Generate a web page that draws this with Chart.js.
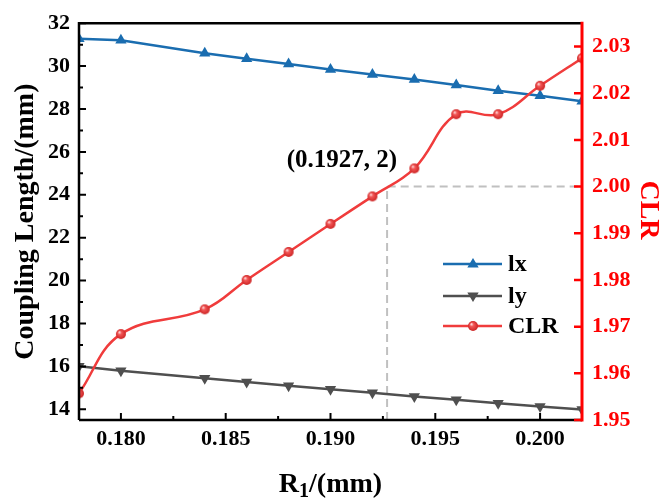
<!DOCTYPE html>
<html><head><meta charset="utf-8">
<script src="https://cdn.jsdelivr.net/npm/chart.js@4.4.1/dist/chart.umd.min.js"></script>
<style>html,body{margin:0;padding:0;background:#fff;}#wrap{width:660px;height:500px;}</style>
</head><body><div id="wrap"><canvas id="c" width="660" height="500"></canvas></div>
<script>
// ---- data ----
const r1  = [0.178,0.180,0.184,0.186,0.188,0.190,0.192,0.194,0.196,0.198,0.200,0.202];
const lx  = [31.28,31.21,30.60,30.34,30.10,29.84,29.61,29.38,29.12,28.85,28.62,28.36];
const ly  = [16.01,15.80,15.45,15.27,15.10,14.93,14.77,14.60,14.44,14.28,14.13,13.99];
const clr = [1.9557,1.9684,1.9737,1.9800,1.9860,1.9920,1.9979,2.0039,2.0155,2.0155,2.0216,2.0275];
const xTicks = [0.180,0.185,0.190,0.195,0.200];
const xMinor = [0.1825,0.1875,0.1925,0.1975];
const yTicks = [14,16,18,20,22,24,26,28,30,32];
const yMinor = [15,17,19,21,23,25,27,29,31];
const y1Ticks = [1.95,1.96,1.97,1.98,1.99,2.00,2.01,2.02,2.03];
const markX = 0.1927, markY = 2;
const markLabel = '(0.1927, 2)';
const legendNames = ['lx','ly','CLR'];

const FONT = "'Liberation Serif','Times New Roman',serif";
const BLUE = '#1a6db0', GRAY = '#4f4f4f', RED = '#f03c3c';

function makeBall(r){
  const s = 2*r+2, c = document.createElement('canvas'); c.width = s; c.height = s;
  const g = c.getContext('2d'), cx = s/2;
  const grad = g.createRadialGradient(cx-r*0.35, cx-r*0.4, r*0.05, cx, cx, r);
  grad.addColorStop(0,'#ffe2e2'); grad.addColorStop(0.35,'#f25656'); grad.addColorStop(1,'#cc2424');
  g.fillStyle = grad; g.beginPath(); g.arc(cx,cx,r,0,Math.PI*2); g.fill();
  return c;
}
const ball = makeBall(5);

const pts = arr => r1.map((x,i)=>({x, y:arr[i]}));

const framePlugin = {
  id:'frame',
  afterDatasetsDraw(chart){
    const {ctx, chartArea:a, scales} = chart;
    const X = scales.x, Y = scales.y, Y1 = scales.y1;
    ctx.save();
    ctx.lineCap = 'butt';
    ctx.strokeStyle = '#000'; ctx.lineWidth = 2.5;
    ctx.beginPath();
    ctx.moveTo(a.left, a.bottom); ctx.lineTo(a.left, a.top); ctx.lineTo(a.right, a.top);
    ctx.moveTo(a.left, a.bottom); ctx.lineTo(a.right, a.bottom);
    ctx.stroke();
    ctx.lineWidth = 2;
    ctx.beginPath();
    yTicks.forEach(v=>{const p=Y.getPixelForValue(v); ctx.moveTo(a.left,p); ctx.lineTo(a.left+7,p);});
    yMinor.forEach(v=>{const p=Y.getPixelForValue(v); ctx.moveTo(a.left,p); ctx.lineTo(a.left+4,p);});
    xTicks.forEach(v=>{const p=X.getPixelForValue(v); ctx.moveTo(p,a.bottom); ctx.lineTo(p,a.bottom-7);});
    xMinor.forEach(v=>{const p=X.getPixelForValue(v); ctx.moveTo(p,a.bottom); ctx.lineTo(p,a.bottom-4);});
    ctx.stroke();
    ctx.strokeStyle = '#ff0000'; ctx.lineWidth = 3;
    ctx.beginPath(); ctx.moveTo(a.right, a.top-1.5); ctx.lineTo(a.right, a.bottom+1.5); ctx.stroke();
    ctx.lineWidth = 2.5;
    ctx.beginPath();
    y1Ticks.forEach(v=>{const p=Y1.getPixelForValue(v); ctx.moveTo(a.right,p); ctx.lineTo(a.right-8,p);});
    ctx.stroke();
    ctx.restore();
  },
  afterDraw(chart){
    const {ctx, chartArea:a, scales} = chart;
    const X = scales.x, Y1 = scales.y1;
    ctx.save();
    ctx.fillStyle = '#000';
    ctx.font = "bold 28px " + FONT;
    ctx.textAlign = 'center'; ctx.textBaseline = 'middle';
    ctx.save(); ctx.translate(26, (a.top+a.bottom)/2); ctx.rotate(-Math.PI/2);
    ctx.fillText('Coupling Length/(mm)', 0, 0); ctx.restore();
    ctx.fillStyle = '#ff0000';
    ctx.save(); ctx.translate(648, 210); ctx.rotate(Math.PI/2);
    ctx.fillText('CLR', 0, 0); ctx.restore();
    ctx.fillStyle = '#000'; ctx.textAlign = 'left'; ctx.textBaseline = 'alphabetic';
    const big = "bold 28px " + FONT, small = "bold 20px " + FONT;
    ctx.font = big; const wR = ctx.measureText('R').width, wRest = ctx.measureText('/(mm)').width;
    ctx.font = small; const w1 = ctx.measureText('1').width;
    const tot = wR + w1 + wRest; let x0 = (a.left+a.right)/2 - tot/2; const base = 492;
    ctx.font = big; ctx.fillText('R', x0, base);
    ctx.font = small; ctx.fillText('1', x0+wR, base+5);
    ctx.font = big; ctx.fillText('/(mm)', x0+wR+w1, base);
    ctx.font = "bold 25px " + FONT; ctx.textAlign = 'right'; ctx.textBaseline = 'middle';
    ctx.fillText(markLabel, X.getPixelForValue(markX)+10, Y1.getPixelForValue(markY)-26);
    const colors = [BLUE, GRAY, RED];
    const ys = [264, 296, 326];
    legendNames.forEach((name,i)=>{
      const yy = ys[i];
      ctx.strokeStyle = colors[i]; ctx.lineWidth = 2.5;
      ctx.beginPath(); ctx.moveTo(443, yy); ctx.lineTo(502, yy); ctx.stroke();
      if(i===2){ ctx.drawImage(ball, 473-ball.width/2, yy-ball.height/2); }
      else {
        ctx.fillStyle = colors[i];
        const r = 6, dir = i===0 ? -1 : 1;
        ctx.beginPath();
        ctx.moveTo(473, yy + dir*r);
        ctx.lineTo(473 - r*0.95, yy - dir*r*0.6);
        ctx.lineTo(473 + r*0.95, yy - dir*r*0.6);
        ctx.closePath(); ctx.fill();
      }
      ctx.fillStyle = '#000'; ctx.font = "bold 24px " + FONT;
      ctx.textAlign = 'left'; ctx.textBaseline = 'middle';
      ctx.fillText(name, 508, yy+1);
    });
    ctx.restore();
  }
};

new Chart(document.getElementById('c'), {
  type:'line',
  data:{ datasets:[
    { label:'guide', data:[{x:markX,y:1.95},{x:markX,y:markY},{x:0.202,y:markY}], yAxisID:'y1',
      borderColor:'#c0c0c0', borderWidth:2, borderDash:[8,5], pointRadius:0, tension:0, clip:0, order:5 },
    { label:legendNames[0], data:pts(lx), yAxisID:'y', borderColor:BLUE, backgroundColor:BLUE,
      borderWidth:2.5, pointStyle:'triangle', pointRadius:6.5, pointBorderWidth:0, tension:0, clip:0, order:3 },
    { label:legendNames[1], data:pts(ly), yAxisID:'y', borderColor:GRAY, backgroundColor:GRAY,
      borderWidth:2.5, pointStyle:'triangle', rotation:180, pointRadius:6.5, pointBorderWidth:0, tension:0, clip:0, order:2 },
    { label:legendNames[2], data:pts(clr), yAxisID:'y1', borderColor:RED, backgroundColor:RED,
      borderWidth:2.5, pointStyle:ball, pointRadius:5, tension:0.4, clip:0, order:1 }
  ]},
  options:{
    responsive:false, animation:false, devicePixelRatio:1,
    layout:{padding:{top:16,left:0,right:0,bottom:0}},
    plugins:{legend:{display:false}, tooltip:{enabled:false}},
    scales:{
      x:{ type:'linear', min:0.178, max:0.202, position:'bottom',
          grid:{display:false, drawTicks:false}, border:{display:false},
          afterBuildTicks:s=>{s.ticks = xTicks.map(v=>({value:v}));},
          afterFit:s=>{s.height = 80;},
          ticks:{ padding:6, color:'#000', font:{family:FONT, size:22, weight:'bold'}, callback:v=>Number(v).toFixed(3), maxRotation:0, autoSkip:false } },
      y:{ type:'linear', min:13.5, max:32, position:'left',
          grid:{display:false, drawTicks:false}, border:{display:false},
          afterBuildTicks:s=>{s.ticks = yTicks.map(v=>({value:v}));},
          afterFit:s=>{s.width = 79;},
          ticks:{ padding:9, color:'#000', font:{family:FONT, size:22, weight:'bold'}, callback:v=>String(v), autoSkip:false } },
      y1:{ type:'linear', min:1.95, max:2.035, position:'right',
          grid:{display:false, drawTicks:false}, border:{display:false},
          afterBuildTicks:s=>{s.ticks = y1Ticks.map(v=>({value:v}));},
          afterFit:s=>{s.width = 78;},
          ticks:{ padding:10, color:'#ff0000', font:{family:FONT, size:22, weight:'bold'}, callback:v=>Number(v).toFixed(2), autoSkip:false } }
    }
  },
  plugins:[framePlugin]
});
</script></body></html>
